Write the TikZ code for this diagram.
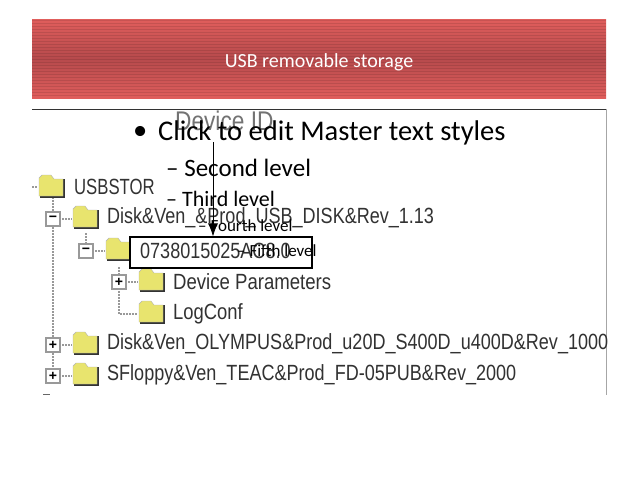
\documentclass[tikz,border=0pt]{standalone}
\usepackage{fontspec}
\setmainfont{Carlito}
\newfontfamily\shotfont{Liberation Sans}
\usetikzlibrary{arrows,arrows.meta}
\definecolor{bannerlight}{RGB}{224,94,92}
\definecolor{bannerdark}{RGB}{182,74,76}
\definecolor{shottext}{RGB}{50,50,50}
\definecolor{foldercol}{RGB}{232,228,110}
\tikzset{shot/.style={anchor=west,inner sep=0pt,text=shottext,font=\shotfont\fontsize{22}{22}\selectfont,xscale=.82}}
\tikzset{slide/.style={anchor=west,inner sep=0pt,text=black}}
\tikzset{treeline/.style={dash pattern=on 1.5pt off 1.5pt,color=black!40,line width=1.1pt}}
\tikzset{expander/.style={draw=black!40,line width=1.2pt,fill=white,minimum size=14pt,inner sep=0pt,font=\shotfont\fontsize{14}{14}\selectfont\bfseries}}
\newcommand{\folder}[2]{
  \fill[black!80] (#1-11,#2-8) -- (#1+14,#2-8) -- (#1+14,#2+11) -- (#1-11,#2+11) -- cycle;
  \draw[black!30,fill=foldercol] (#1-12,#2+9) -- (#1-12,#2-9) -- (#1-9,#2-12) -- (#1,#2-12) -- (#1+3,#2-8) -- (#1+12,#2-8) -- (#1+12,#2+9) -- cycle;
}
\begin{document}
\begin{tikzpicture}[x=1pt,y=-1pt]
  \useasboundingbox (0,0) rectangle (638,479);
  \fill[white] (0,0) rectangle (638,479);
  % banner
  \shade[top color=bannerlight,bottom color=bannerlight,middle color=bannerdark] (32,19) rectangle (606,98);
  \foreach \y in {20,23,...,96}
    \fill[black,opacity=.1] (32,\y) rectangle (606,\y+1.2);
  \node[inner sep=0pt,text=white,font=\fontsize{20}{20}\selectfont] (title) at (319,62) {USB removable storage};
  \draw[black!80,thick] (32,109) -- (606,109);
  \draw[black!35] (606,109) -- (606,395);
  % tree
  \draw[treeline] (53,197) -- (53,376);
  \draw[treeline] (86,233) -- (86,251) -- (105,251);
  \draw[treeline] (119,267) -- (119,314) -- (138,314);
  \draw[treeline] (53,219) -- (72,219);
  \draw[treeline] (119,282) -- (138,282);
  \draw[treeline] (53,345) -- (72,345);
  \draw[treeline] (53,376) -- (72,376);
  \draw[treeline] (32,187) -- (38,187);
  \draw[black!60] (43,394.5) -- (50,394.5);
  \folder{51}{187}
  \folder{85}{218}
  \folder{118}{250}
  \folder{151}{281}
  \folder{151}{313}
  \folder{85}{344}
  \folder{85}{375}
  \node[expander] (disktog) at (53,219) {−};
  \node[expander] (idtog) at (86,251) {−};
  \node[expander] (paramtog) at (119,282) {+};
  \node[expander] (olytog) at (53,345) {+};
  \node[expander] (flopptog) at (53,376) {+};
  \node[shot,xscale=.76/.82] (usbstor) at (74,187) {USBSTOR};
  \node[shot] (diskusb) at (107,218) {Disk\&Ven\_\&Prod\_USB\_DISK\&Rev\_1.13};
  \node[shot,xscale=.845/.82] (params) at (173,282) {Device Parameters};
  \node[shot,xscale=.836/.82] (logconf) at (173,314) {LogConf};
  \node[shot] (diskoly) at (107,344) {Disk\&Ven\_OLYMPUS\&Prod\_u20D\_S400D\_u400D\&Rev\_1000};
  \node[shot] (sfloppy) at (107,375) {SFloppy\&Ven\_TEAC\&Prod\_FD-05PUB\&Rev\_2000};
  % callout
  \node[draw=black,line width=1.2pt,fill=white,minimum width=182pt,minimum height=31pt,inner sep=0pt] (idbox) at (221,252.5) {};
  \node[shot] (idtext) at (140,251) {0738015025AC8.0};
  \node[shot,text=black!55,xscale=.84/.82,font=\shotfont\fontsize{27}{27}\selectfont] (devid) at (175,121) {Device ID};
  \draw[-{Latex[length=13pt,width=10pt]},thick] (213,142) -- (idbox.north -| 213,0);
  % placeholder text
  \node[slide,font=\fontsize{28.5}{28.5}\selectfont] (lvlone) at (158,133) {Click to edit Master text styles};
  \node[slide,font=\fontsize{28.5}{28.5}\selectfont] (bullet) at (133,133) {•};
  \node[slide,font=\fontsize{25}{25}\selectfont] (lvltwo) at (166,168) {– Second level};
  \node[slide,font=\fontsize{22}{22}\selectfont] (lvlthree) at (166,199) {– Third level};
  \node[slide,font=\fontsize{17}{17}\selectfont] (lvlfour) at (198,226) {– Fourth level};
  \node[slide,font=\fontsize{17}{17}\selectfont] (lvlfive) at (237,251) {– Fifth level};
\end{tikzpicture}
\end{document}
